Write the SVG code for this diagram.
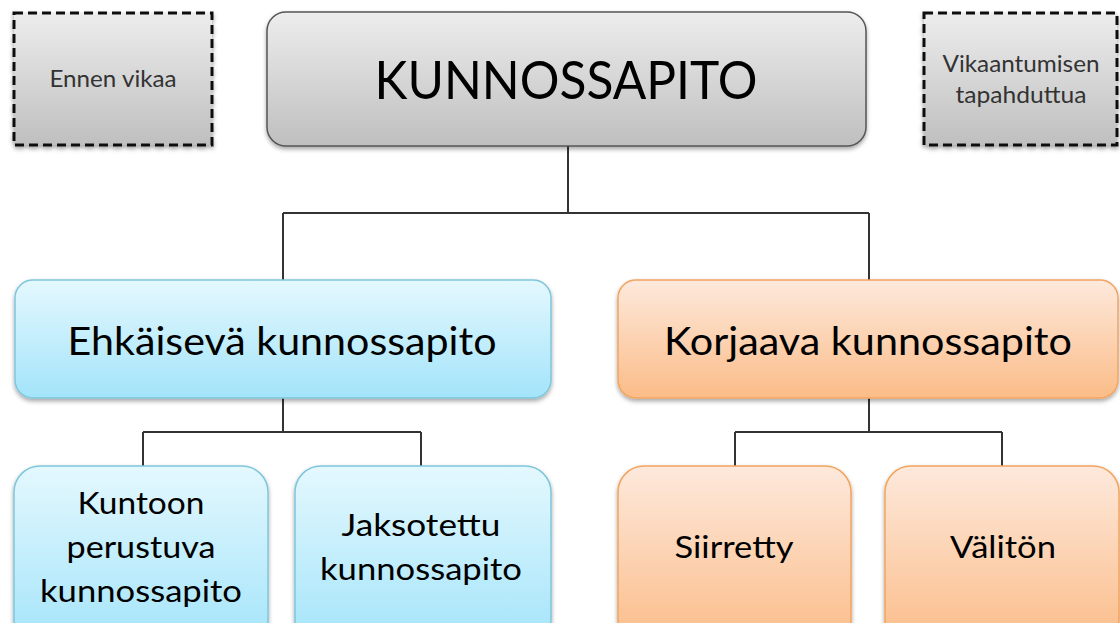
<svg xmlns="http://www.w3.org/2000/svg" width="1120" height="623" viewBox="0 0 1120 623">
  <defs>
    <linearGradient id="gGray" x1="0" y1="0" x2="0" y2="1">
      <stop offset="0" stop-color="#ededed"/>
      <stop offset="1" stop-color="#bfbfbf"/>
    </linearGradient>
    <linearGradient id="gBlue" x1="0" y1="0" x2="0" y2="1">
      <stop offset="0" stop-color="#e4f8fe"/>
      <stop offset="1" stop-color="#a3e4fa"/>
    </linearGradient>
    <linearGradient id="gOrange" x1="0" y1="0" x2="0" y2="1">
      <stop offset="0" stop-color="#fde9dc"/>
      <stop offset="1" stop-color="#fbbc88"/>
    </linearGradient>
    <filter id="shadow" x="-10%" y="-10%" width="120%" height="130%">
      <feDropShadow dx="0" dy="2.5" stdDeviation="2" flood-color="#000" flood-opacity="0.35"/>
    </filter>
  </defs>
  <style>
    .lbl { font-family: Lato, "Open Sans", "Liberation Sans", sans-serif; fill: #000; text-anchor: middle; }
    .side { font-family: Lato, "Open Sans", "Liberation Sans", sans-serif; fill: #333; text-anchor: middle; font-size: 23.5px; }
    .dash { fill: url(#gGray); stroke: #111; stroke-width: 3; stroke-dasharray: 9 5; filter: url(#shadow); }
    .gray { fill: url(#gGray); stroke: #555; stroke-width: 1.5; filter: url(#shadow); }
    .blue { fill: url(#gBlue); stroke: #7fc6db; stroke-width: 1.5; filter: url(#shadow); }
    .orange { fill: url(#gOrange); stroke: #f3a45f; stroke-width: 1.5; filter: url(#shadow); }
    .wire { fill: none; stroke: #333; stroke-width: 2; }
  </style>

  <rect width="1120" height="623" fill="#fff"/>

  <!-- tree connectors -->
  <g id="connectors" class="wire">
    <path d="M568,146 V213 M283,213 H869 M283,213 V280 M869,213 V280"/>
    <path d="M283,398 V432 M143,432 H421 M143,432 V466 M421,432 V466"/>
    <path d="M869,398 V432 M735,432 H1002 M735,432 V466 M1002,432 V466"/>
  </g>

  <g id="ennen-vikaa">
    <rect class="dash" x="14" y="13" width="198" height="132"/>
    <text class="side" x="113" y="87" textLength="127" lengthAdjust="spacingAndGlyphs">Ennen vikaa</text>
  </g>

  <g id="vikaantumisen-tapahduttua">
    <rect class="dash" x="924" y="13" width="193" height="132"/>
    <text class="side" x="1021" y="72" textLength="157" lengthAdjust="spacingAndGlyphs">Vikaantumisen</text>
    <text class="side" x="1021" y="103" textLength="131" lengthAdjust="spacingAndGlyphs">tapahduttua</text>
  </g>

  <g id="kunnossapito">
    <rect class="gray" x="267" y="12" width="599" height="134" rx="19"/>
    <text class="lbl" x="566" y="99" font-size="53" textLength="383" lengthAdjust="spacingAndGlyphs">KUNNOSSAPITO</text>
  </g>

  <g id="ehkaiseva">
    <rect class="blue" x="15" y="280" width="536" height="118" rx="18"/>
    <text class="lbl" x="282" y="355" font-size="39" textLength="429" lengthAdjust="spacingAndGlyphs">Ehkäisevä kunnossapito</text>
  </g>

  <g id="korjaava">
    <rect class="orange" x="618" y="280" width="500" height="118" rx="18"/>
    <text class="lbl" x="868" y="355" font-size="39" textLength="408" lengthAdjust="spacingAndGlyphs">Korjaava kunnossapito</text>
  </g>

  <g id="kuntoon-perustuva">
    <rect class="blue" x="14" y="466" width="254" height="180" rx="26"/>
    <text class="lbl" x="141" y="514" font-size="30.5" textLength="127" lengthAdjust="spacingAndGlyphs">Kuntoon</text>
    <text class="lbl" x="141" y="558" font-size="30.5" textLength="149" lengthAdjust="spacingAndGlyphs">perustuva</text>
    <text class="lbl" x="141" y="602" font-size="30.5" textLength="202" lengthAdjust="spacingAndGlyphs">kunnossapito</text>
  </g>

  <g id="jaksotettu">
    <rect class="blue" x="295" y="466" width="256" height="180" rx="26"/>
    <text class="lbl" x="421" y="536" font-size="30.5" textLength="159" lengthAdjust="spacingAndGlyphs">Jaksotettu</text>
    <text class="lbl" x="421" y="580" font-size="30.5" textLength="202" lengthAdjust="spacingAndGlyphs">kunnossapito</text>
  </g>

  <g id="siirretty">
    <rect class="orange" x="618" y="466" width="233" height="180" rx="26"/>
    <text class="lbl" x="734" y="558" font-size="30.5" textLength="119" lengthAdjust="spacingAndGlyphs">Siirretty</text>
  </g>

  <g id="valiton">
    <rect class="orange" x="885" y="466" width="234" height="180" rx="26"/>
    <text class="lbl" x="1003" y="558" font-size="30.5" textLength="106" lengthAdjust="spacingAndGlyphs">Välitön</text>
  </g>
</svg>
